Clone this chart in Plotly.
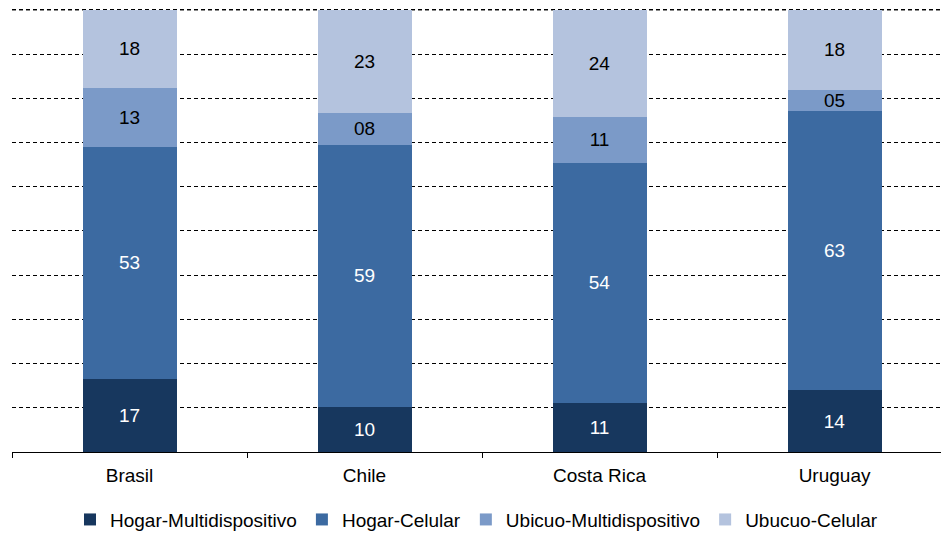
import plotly.graph_objects as go

categories = ["Brasil", "Chile", "Costa Rica", "Uruguay"]
series_names = ["Hogar-Multidispositivo", "Hogar-Celular", "Ubicuo-Multidispositivo", "Ubucuo-Celular"]
hogar_multi = [16.6, 10.2, 11.1, 14.0]
hogar_cel = [52.5, 59.3, 54.3, 63.1]
ubicuo_multi = [13.3, 7.2, 10.4, 4.8]
ubucuo_cel = [17.6, 23.3, 24.2, 18.1]
label_hogar_multi = ["17", "10", "11", "14"]
label_hogar_cel = ["53", "59", "54", "63"]
label_ubicuo_multi = ["13", "08", "11", "05"]
label_ubucuo_cel = ["18", "23", "24", "18"]
axis_max = 100

colors = ["#17375E", "#3C6AA1", "#7B9AC8", "#B4C3DE"]
text_colors = ["white", "white", "black", "black"]
values = [hogar_multi, hogar_cel, ubicuo_multi, ubucuo_cel]
labels = [label_hogar_multi, label_hogar_cel, label_ubicuo_multi, label_ubucuo_cel]

FONT = "Liberation Sans, Arial, sans-serif"
FS = 19
GRID = dict(color="black", width=1, dash="4px,3px")

fig = go.Figure()
for name, vals, labs, c, tc in zip(series_names, values, labels, colors, text_colors):
    fig.add_trace(go.Bar(
        x=categories, y=vals, name=name, text=labs,
        textposition="inside", insidetextanchor="middle", textangle=0,
        constraintext="none",
        textfont=dict(color=tc, size=FS, family=FONT),
        marker=dict(color=c, line=dict(width=0)),
    ))

# top gridline at the axis maximum
fig.add_hline(y=axis_max, line=GRID, layer="below")

fig.update_layout(
    barmode="stack",
    bargap=0.6,
    width=941, height=533,
    margin=dict(l=12, r=0, t=2, b=81, autoexpand=False),
    plot_bgcolor="white", paper_bgcolor="white",
    font=dict(family=FONT, size=FS, color="black"),
    uniformtext=dict(minsize=FS, mode="show"),
    showlegend=True,
    legend=dict(orientation="h", x=0.5, xanchor="center", y=-0.108, yanchor="top",
                font=dict(size=FS), traceorder="normal", itemwidth=30),
    xaxis=dict(range=[-0.5, 3.453], showline=True, linecolor="black", linewidth=1,
               ticks="outside", tickson="boundaries", ticklen=5, tickcolor="black",
               showgrid=False, tickfont=dict(size=FS), automargin=False,
               ticklabelstandoff=6),
    yaxis=dict(range=[0, 101.8], tick0=0, dtick=10, showgrid=True, gridcolor="black",
               griddash="4px,3px", gridwidth=1, showticklabels=False,
               zeroline=False, showline=False, automargin=False),
)

fig.write_html("out.html", config={"displayModeBar": False},
               post_script="document.body.style.margin='0';")
